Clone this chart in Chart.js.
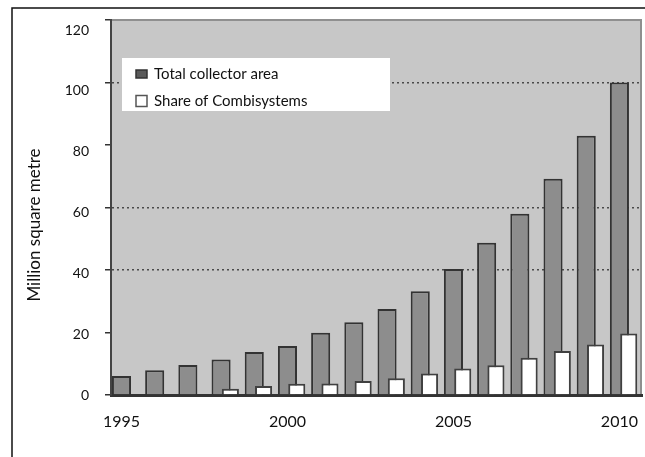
<!DOCTYPE html>
<html>
<head>
<meta charset="utf-8">
<script src="https://cdn.jsdelivr.net/npm/chart.js@4"></script>
<style>
  html, body { margin: 0; padding: 0; background: #fff; }
  #wrap { width: 645px; height: 457px; position: relative; }
</style>
</head>
<body>
<div id="wrap"><canvas id="c" width="645" height="457"></canvas></div>
<script>
// ---- data ----
const years = [1995, 1996, 1997, 1998, 1999, 2000, 2001, 2002, 2003, 2004, 2005, 2006, 2007, 2008, 2009, 2010];
const totalArea = [6.1, 7.9, 9.6, 11.4, 13.8, 15.7, 19.9, 23.3, 27.5, 33.2, 40.3, 48.7, 58.0, 69.2, 83.0, 100.0];
const combiShare = [null, null, null, 2.0, 2.9, 3.6, 3.7, 4.5, 5.4, 6.9, 8.5, 9.5, 11.9, 14.1, 16.2, 19.7];
const seriesLabels = ['Total collector area', 'Share of Combisystems'];
const xTickYears = [1995, 2000, 2005, 2010];
const yTickValues = [0, 20, 40, 60, 80, 100, 120];
const dottedGridValues = [40, 60, 100];
const yTitle = 'Million square metre';

const FONT = 'Lato, "Noto Sans", sans-serif';

const bgPlugin = {
  id: 'bgPlugin',
  beforeDraw(chart) {
    const {ctx, chartArea: a} = chart;
    ctx.save();
    ctx.fillStyle = '#c7c7c7';
    ctx.fillRect(a.left, a.top, a.right - a.left, a.bottom - a.top);
    ctx.strokeStyle = '#8f8f8f';
    ctx.lineWidth = 2;
    ctx.beginPath();
    ctx.moveTo(a.left, a.top);
    ctx.lineTo(a.right - 1, a.top);
    ctx.lineTo(a.right - 1, a.bottom);
    ctx.stroke();
    ctx.restore();
  },
  afterDraw(chart) {
    const {ctx} = chart;
    ctx.save();
    // outer frame
    ctx.strokeStyle = '#111';
    ctx.lineWidth = 1.5;
    ctx.beginPath();
    ctx.moveTo(12, 457);
    ctx.lineTo(12, 8);
    ctx.lineTo(645, 8);
    ctx.stroke();
    // legend
    ctx.fillStyle = '#fff';
    ctx.fillRect(122, 58, 268, 53);
    const ds = chart.data.datasets;
    const items = [
      {y: 74, h: 8, fill: '#5a5a5a', stroke: '#333', label: ds[1].label},
      {y: 101, h: 11, fill: '#fff', stroke: '#555', label: ds[0].label}
    ];
    ctx.font = '15px ' + FONT;
    ctx.textBaseline = 'middle';
    items.forEach(it => {
      ctx.fillStyle = it.fill;
      ctx.fillRect(136, it.y - it.h / 2, 11, it.h);
      ctx.strokeStyle = it.stroke;
      ctx.lineWidth = 1.5;
      ctx.strokeRect(136, it.y - it.h / 2, 11, it.h);
      ctx.fillStyle = '#111';
      ctx.fillText(it.label, 154, it.y);
    });
    // y axis title
    ctx.translate(35, 225);
    ctx.rotate(-Math.PI / 2);
    ctx.textAlign = 'center';
    ctx.font = '17px ' + FONT;
    ctx.fillText(yTitle, 0, 0);
    ctx.restore();
  }
};

const xMin = 1994.684, xMax = 2010.68, shareShift = 0.28;

new Chart(document.getElementById('c'), {
  type: 'bar',
  data: {
    datasets: [
      {
        label: seriesLabels[1],
        data: years.map((y, i) => ({x: y, y: combiShare[i]})),
        xAxisID: 'x2', yAxisID: 'y', grouped: false,
        backgroundColor: '#ffffff', borderColor: '#404040', borderWidth: 2,
        categoryPercentage: 1, barPercentage: 0.515
      },
      {
        label: seriesLabels[0],
        data: years.map((y, i) => ({x: y, y: totalArea[i]})),
        xAxisID: 'x', yAxisID: 'y', grouped: false,
        backgroundColor: '#8d8d8d', borderColor: '#333333', borderWidth: 2,
        categoryPercentage: 1, barPercentage: 0.575
      }
    ]
  },
  options: {
    responsive: false,
    animation: false,
    layout: {padding: {top: 20, right: 3, left: 0, bottom: 0}},
    plugins: {legend: {display: false}, tooltip: {enabled: false}},
    scales: {
      x: {
        type: 'linear', position: 'bottom', min: xMin, max: xMax, offset: false,
        grid: {display: false, drawTicks: false, offset: false},
        border: {display: true, color: '#333', width: 3},
        afterBuildTicks: s => { s.ticks = xTickYears.map(v => ({value: v})); },
        ticks: {color: '#111', font: {family: FONT, size: 16}, padding: 17, maxRotation: 0, callback: v => String(v)},
        afterFit: s => { s.height = 62; s.paddingLeft = 0; s.paddingRight = 0; }
      },
      x2: {
        type: 'linear', display: false, offset: false, grid: {offset: false},
        min: xMin - shareShift, max: xMax - shareShift
      },
      y: {
        position: 'left', weight: 0, min: 0, max: 120,
        afterBuildTicks: s => { s.ticks = yTickValues.map(v => ({value: v})); },
        ticks: {display: false},
        grid: {
          drawTicks: true, tickLength: 6, tickColor: '#333', tickWidth: 1.5,
          lineWidth: 1.5,
          color: c => (c.tick && dottedGridValues.includes(c.tick.value)) ? '#4a4a4a' : 'rgba(0,0,0,0)'
        },
        border: {display: true, color: '#444', width: 2, dash: [2, 3]},
        afterFit: s => { s.width = 6; }
      },
      yL: {
        position: 'left', weight: 1, min: 0, max: 123.3,
        afterBuildTicks: s => { s.ticks = yTickValues.map(v => ({value: v})); },
        grid: {display: false},
        border: {display: false},
        ticks: {color: '#111', font: {family: FONT, size: 14}, padding: 8},
        afterFit: s => { s.width = 105; }
      }
    }
  },
  plugins: [bgPlugin]
});
</script>
</body>
</html>
